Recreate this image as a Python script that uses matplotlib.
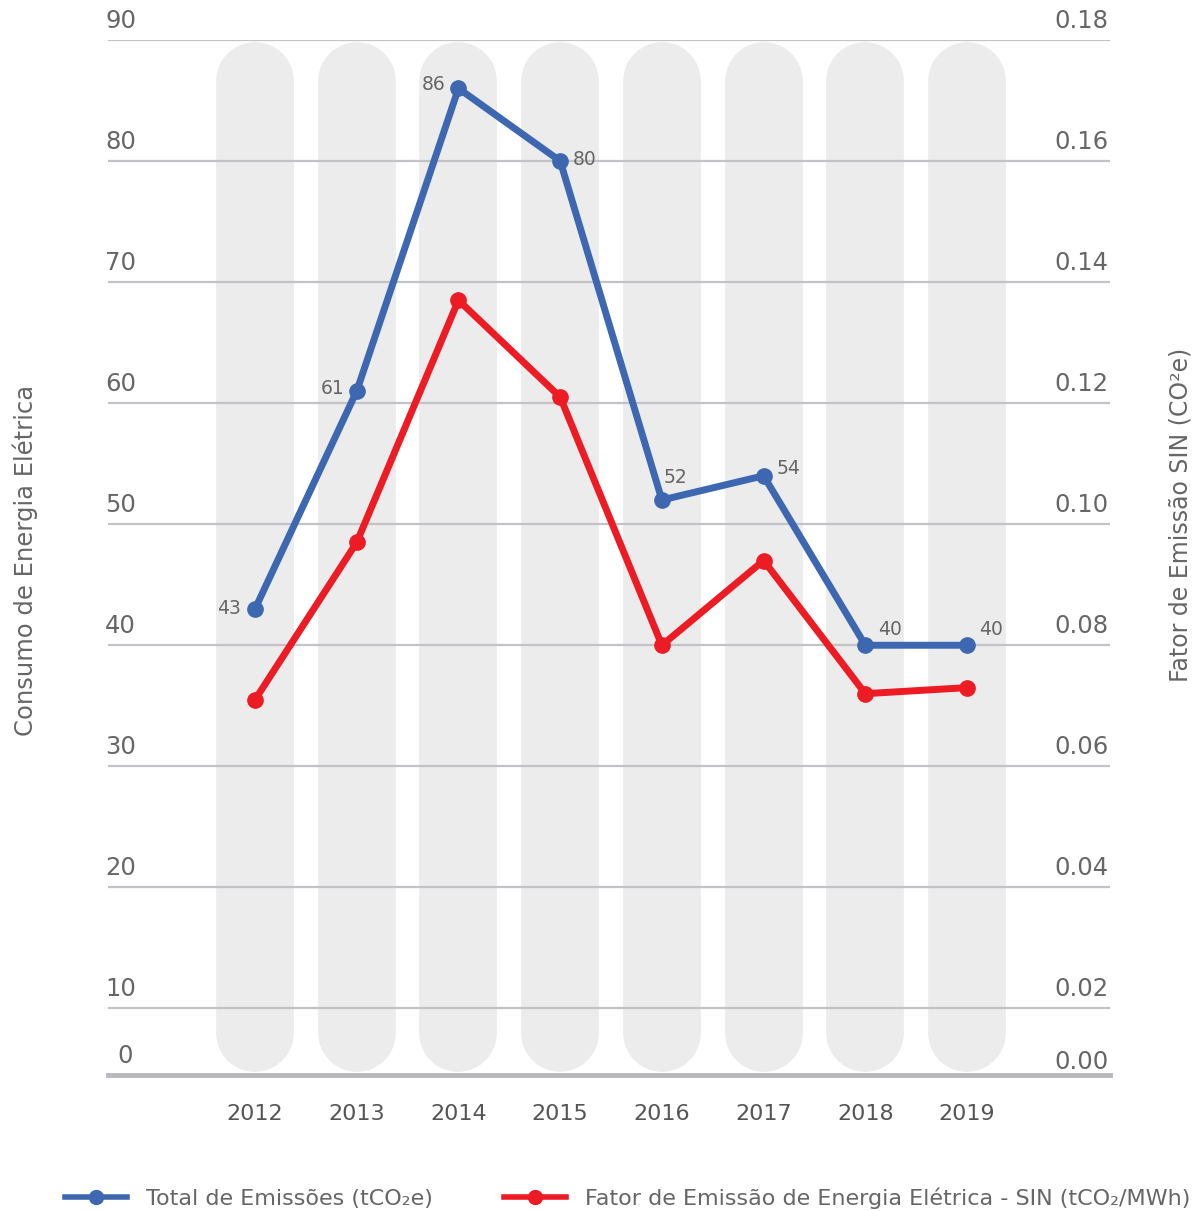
import matplotlib
matplotlib.use("Agg")
import matplotlib.pyplot as plt
from matplotlib.lines import Line2D

# data
years = ["2012", "2013", "2014", "2015", "2016", "2017", "2018", "2019"]
total_emissoes = [43, 61, 86, 80, 52, 54, 40, 40]
fator_sin = [0.071, 0.097, 0.137, 0.121, 0.080, 0.094, 0.072, 0.073]
left_ticks = [10, 20, 30, 40, 50, 60, 70, 80, 90]
right_ticks = [0.02, 0.04, 0.06, 0.08, 0.10, 0.12, 0.14, 0.16, 0.18]

BLUE = "#3d68b1"
RED = "#ed1c24"
TXT = "#666666"
GRID = "#c3c3c7"
BAR = "#ececec"

plt.rcParams["font.family"] = ["DejaVu Sans"]

fig = plt.figure(figsize=(11.94, 12.11), dpi=100)
ax = fig.add_axes([0.0905, 0.1123, 0.8392, 0.8547])
ax2 = ax.twinx()

y_lo, y_hi = 4.5, 90
ax.set_ylim(y_lo, y_hi)
ax2.set_ylim(y_lo / 90 * 0.18, 0.18)
x = list(range(len(years)))
ax.set_xlim(-1.445, 8.406)

# rounded background columns
for xi in x:
    ax.plot([xi, xi], [8.0, 86.6], color=BAR, lw=56, solid_capstyle="round", zorder=0)

# gridlines
for v in left_ticks:
    ax.axhline(v, color=GRID, lw=1.6, zorder=1)

for a in (ax, ax2):
    for s in ("top", "left", "right"):
        a.spines[s].set_visible(False)
    a.set_yticks([])
ax.spines["bottom"].set_color("#b9b9bd")
ax.spines["bottom"].set_linewidth(3.5)
ax2.spines["bottom"].set_visible(False)

ax.set_xticks(x)
ax.set_xticklabels(years)
ax.tick_params(axis="x", length=0, pad=21, labelsize=16, labelcolor="#555555")

# left tick labels (above gridlines)
for v in left_ticks:
    ax.annotate(str(v), xy=(0, v), xycoords=("axes fraction", "data"), xytext=(-2, 5),
                textcoords="offset points", ha="left", va="bottom", fontsize=17.5, color=TXT)
ax.annotate("0", xy=(0, y_lo), xycoords=("axes fraction", "data"), xytext=(7, 5),
            textcoords="offset points", ha="left", va="bottom", fontsize=17.5, color=TXT)

# right tick labels
for v in right_ticks:
    ax2.annotate(f"{v:.2f}", xy=(1, v), xycoords=("axes fraction", "data"), xytext=(-1, 5),
                 textcoords="offset points", ha="right", va="bottom", fontsize=17.5, color=TXT)
ax2.annotate("0.00", xy=(1, y_lo / 90 * 0.18), xycoords=("axes fraction", "data"), xytext=(-1, 1),
             textcoords="offset points", ha="right", va="bottom", fontsize=17.5, color=TXT)

# series
ax.plot(x, total_emissoes, color=BLUE, lw=5, marker="o", ms=11, zorder=3)
ax2.plot(x, fator_sin, color=RED, lw=5, marker="o", ms=11, zorder=3)

label_offsets = [(-10, 0, "right"), (-9, 2, "right"), (-9, 3, "right"), (9, 1, "left"),
                 (1, 16, "left"), (9, 5, "left"), (9, 11, "left"), (9, 11, "left")]
for xi, v, (dx, dy, ha) in zip(x, total_emissoes, label_offsets):
    ax.annotate(str(v), xy=(xi, v), xytext=(dx, dy), textcoords="offset points",
                ha=ha, va="center", fontsize=13.5, color=TXT, zorder=4)

# axis titles
fig.text(0.021, 0.5376, "Consumo de Energia Elétrica", rotation=90, ha="center", va="center",
         fontsize=17.5, color=TXT)
fig.text(0.9890, 0.5747, "Fator de Emissão SIN (CO²e)", rotation=90, ha="center", va="center",
         fontsize=17, color=TXT)

# legend
handles = [Line2D([0], [0], color=BLUE, lw=4, marker="o", ms=10),
           Line2D([0], [0], color=RED, lw=4, marker="o", ms=10)]
labels = ["Total de Emissões (tCO₂e)", "Fator de Emissão de Energia Elétrica - SIN (tCO₂/MWh)"]
fig.legend(handles, labels, loc="center left", bbox_to_anchor=(0.0544, 0.0107), ncol=2,
           frameon=False, fontsize=16, labelcolor=TXT, handlelength=2.8, handletextpad=0.85,
           columnspacing=3.2, borderpad=0, borderaxespad=0)

fig.savefig("out.png", dpi=100)
